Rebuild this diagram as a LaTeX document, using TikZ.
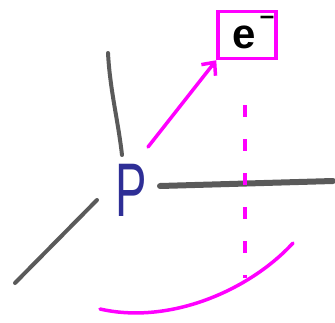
\documentclass[tikz,border=0pt]{standalone}
\usepackage{fontspec}
\setmainfont{Liberation Sans}
\usetikzlibrary{arrows.meta,calc}
\definecolor{mag}{HTML}{FF00FF}
\definecolor{bondgray}{HTML}{5A5A5A}
\definecolor{pblue}{HTML}{2E2E96}
\tikzset{
  bond/.style={draw=bondgray, line width=4pt, line cap=round},
  magline/.style={draw=mag, line width=3.5pt, line cap=round},
  atom/.style={text=pblue, font=\fontsize{76}{76}\selectfont, inner sep=0pt},
  ebox/.style={draw=mag, line width=3.5pt, minimum width=58pt, minimum height=47pt, inner sep=0pt},
}
\begin{document}
\begin{tikzpicture}[x=1pt,y=-1pt]
\useasboundingbox (0,0) rectangle (335,322);
% atom P
\node[atom] (p) at (131,190) {\scalebox{0.62}[1]{P}};
% electron box
\node[ebox] (e) at (247,35) {};
\node[font=\bfseries\fontsize{42}{42}\selectfont, inner sep=0pt] (et) at (244,37) {e};
\node[font=\bfseries\fontsize{26}{26}\selectfont, inner sep=0pt] (em) at (267,20) {–};
% bonds
\draw[bond] (108,53) .. controls (110,90) and (118,120) .. (122,155);
\draw[bond] (97,200) -- (15,283);
\draw[bond, line width=6pt] (160,186) -- (333,181);
% arrow
\coordinate (a0) at (148,147);
\draw[magline, -{Straight Barb[length=10pt,width=18pt,line width=3.5pt]}] (a0) -- (e.south west);
% dashed projection
\coordinate (d0) at (245,105);
\coordinate (d1) at (245,278);
\draw[magline, line cap=butt, dash pattern=on 12pt off 22pt] (d0) -- (d1);
% arc
\coordinate (c0) at (100,309);
\coordinate (c1) at (293,243);
\draw[magline] (c0) .. controls (170,325) and (250,290) .. (c1);
\end{tikzpicture}
\end{document}
